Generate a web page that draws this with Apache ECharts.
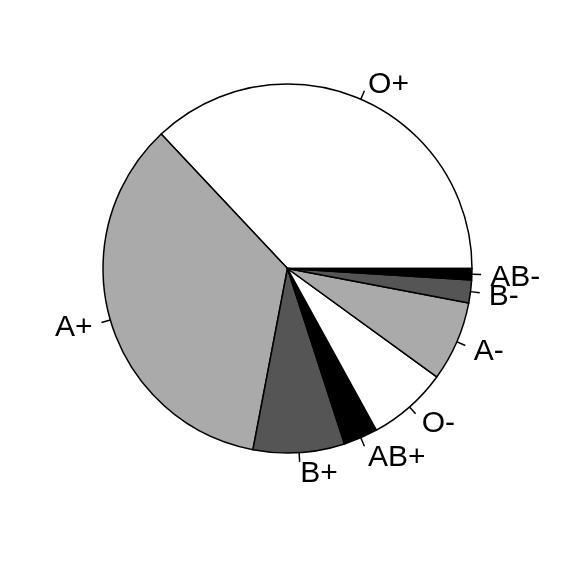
<!DOCTYPE html>
<html>
<head>
<meta charset="utf-8">
<script src="https://cdn.jsdelivr.net/npm/echarts@6/dist/echarts.min.js"></script>
<style>html,body{margin:0;padding:0;background:#fff;}#c{width:576px;height:576px;}</style>
</head>
<body>
<div id="c"></div>
<script>
const categories = ["O+", "A+", "B+", "AB+", "O-", "A-", "B-", "AB-"];
const values = [37, 35, 8, 3, 7, 7, 2, 1];
const colors = ["#FFFFFF", "#AAAAAA", "#555555", "#000000", "#FFFFFF", "#AAAAAA", "#555555", "#000000"];

const CX = 287.5, CY = 268.5, R = 184.5;
const total = values.reduce((a, b) => a + b, 0);

function labelPlace(p) {
  const i = p.dataIndex;
  let cum = 0;
  for (let k = 0; k < i; k++) cum += values[k];
  const mid = (cum + values[i] / 2) / total * 2 * Math.PI;
  const c = Math.cos(mid), s = Math.sin(mid);
  return {
    x: CX + 1.1 * R * c,
    y: CY - 1.1 * R * s + 2.5,
    align: c < 0 ? 'right' : 'left',
    verticalAlign: 'middle',
    hideOverlap: false,
    labelLinePoints: [[CX + R * c, CY - R * s], [CX + 1.05 * R * c, CY - 1.05 * R * s], [CX + 1.05 * R * c, CY - 1.05 * R * s]]
  };
}

const chart = echarts.init(document.getElementById('c'), null, {renderer: 'canvas'});
chart.setOption({
  animation: false,
  backgroundColor: '#FFFFFF',
  series: [{
    type: 'pie',
    center: [CX, CY],
    radius: [0, R],
    startAngle: 0,
    clockwise: false,
    avoidLabelOverlap: false,
    labelLayout: labelPlace,
    emphasis: {disabled: true},
    data: categories.map((c, i) => ({name: c, value: values[i], itemStyle: {color: colors[i]}})),
    itemStyle: {borderColor: '#000000', borderWidth: 1.5},
    label: {
      show: true,
      position: 'outside',
      formatter: '{b}',
      color: '#000000',
      fontFamily: '"Liberation Sans"',
      fontSize: 30
    },
    labelLine: {
      show: true,
      length: 9,
      length2: 0,
      smooth: false,
      lineStyle: {color: '#000000', width: 1.5}
    }
  }]
});
</script>
</body>
</html>
